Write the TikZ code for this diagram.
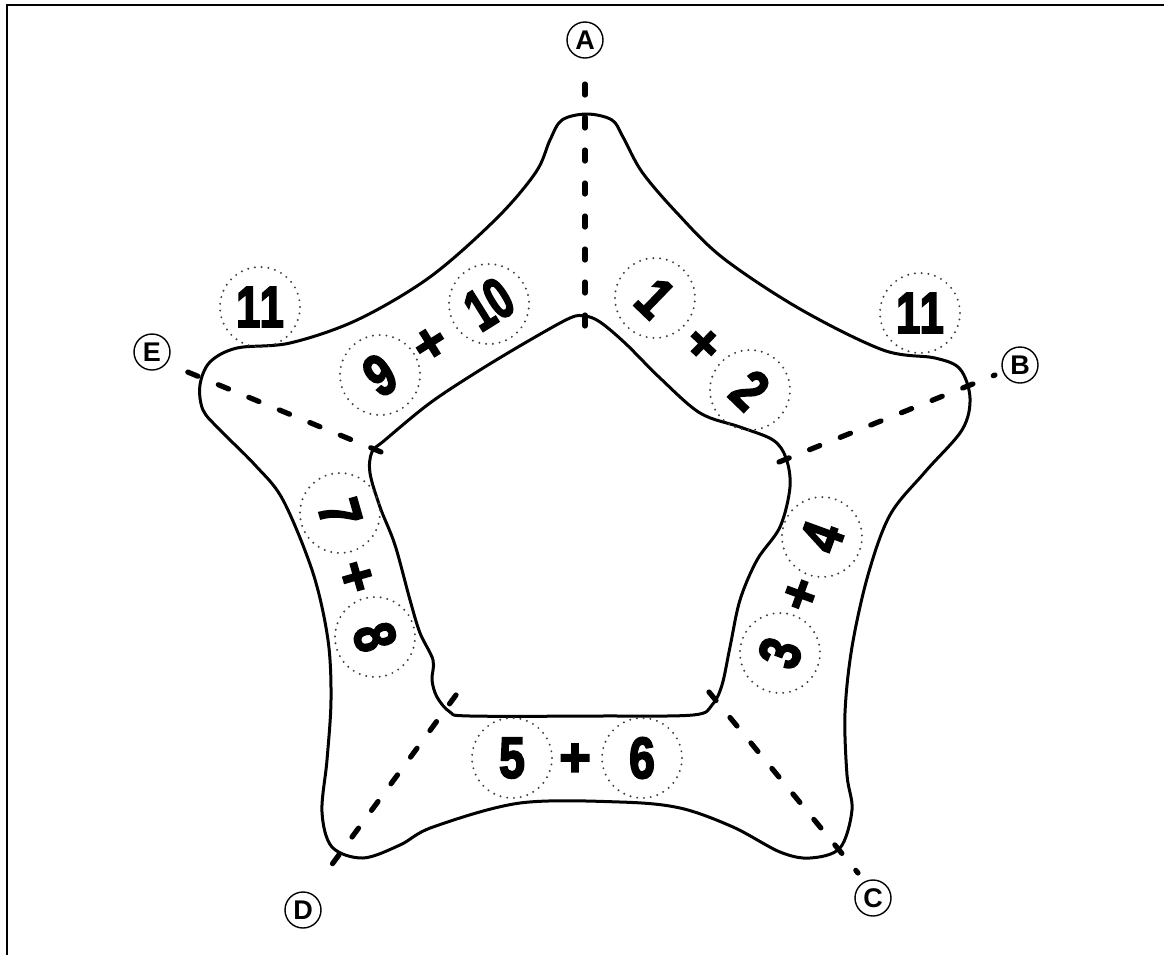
\documentclass[tikz,border=0pt]{standalone}
\usepackage{fontspec}
\usepackage{graphicx}
\setmainfont{Liberation Sans}
\newfontfamily\numfont{Liberation Sans Bold}[FakeBold=3.5]
\newcommand{\nn}[1]{\scalebox{0.8}[1]{#1}}
\begin{document}
\begin{tikzpicture}[x=0.5pt,y=-0.5pt,
  outline/.style={line width=1.5pt, line join=round},
  axisline/.style={line width=2.6pt, line cap=round, dash pattern=on 5.5pt off 11pt},
  letter/.style={circle, draw, line width=0.7pt, minimum size=18pt, inner sep=0pt, font=\bfseries\fontsize{13.5}{13.5}\selectfont},
  numcirc/.style={circle, draw=black!75, line width=1.1pt, line cap=round, dash pattern=on 0pt off 3.4pt, minimum size=40pt, inner sep=0pt, font=\numfont\fontsize{29}{29}\selectfont},
  plus/.style={inner sep=0pt, font=\numfont\fontsize{27}{27}\selectfont}
]
\useasboundingbox (0,0) rectangle (1164,955);
% frame
\draw[line width=1.4pt] (7,955) -- (7,5) -- (1164,5);

% outer shape
\draw[outline] plot[smooth cycle, tension=0.55] coordinates {
 (587,114) (612,120) (623,137) (642,172) (677,213) (723,258) (800,309) (883,350)
 (935,358) (960,369) (970,398) (962,430) (925,472) (890,515) (868,575) (852,647)
 (845,713) (847,775) (852,810) (840,848) (810,858) (780,852) (733,827) (680,808)
 (620,802) (520,803) (433,827) (400,845) (363,858) (332,847) (322,812) (327,760)
 (331,700) (328,640) (313,573) (283,500) (255,465) (220,430) (203,410) (200,385)
 (210,362) (237,348) (290,343) (357,320) (430,277) (497,218) (536,172) (550,140)
 (562,120)};

% inner shape
\draw[outline] plot[smooth cycle, tension=0.55] coordinates {
 (585,316) (600,322) (625,343) (660,378) (700,413) (740,427) (773,440) (786,458)
 (790,487) (780,527) (757,560) (740,600) (730,647) (722,685) (712,705) (693,715)
 (600,716) (470,716) (450,712) (437,697) (432,680) (433,660) (420,633) (410,600)
 (395,545) (380,507) (370,473) (372,452) (385,440) (430,403) (480,370) (530,340)
 (570,318)};

% letter nodes
\node[letter] (A) at (585,40) {A};
\node[letter] (B) at (1020,365) {B};
\node[letter] (C) at (873,898) {C};
\node[letter] (D) at (303,910) {D};
\node[letter] (E) at (152,352) {E};

% axis endpoints
\coordinate (a0) at (585,326);  \coordinate (a1) at (585,75);
\coordinate (b0) at (779,462);  \coordinate (b1) at (995,375);
\coordinate (c0) at (709,692);  \coordinate (c1) at (858,873);
\coordinate (d0) at (456,695);  \coordinate (d1) at (322,878);
\coordinate (e0) at (381,452);  \coordinate (e1) at (178,368);
\draw[axisline] (a0) -- (a1);
\draw[axisline] (b0) -- (b1);
\draw[axisline] (c0) -- (c1);
\draw[axisline] (d0) -- (d1);
\draw[axisline] (e0) -- (e1);

% numbers
\node[numcirc] (n11a) at (260,307) {\scalebox{0.75}[1]{1\kern-0.5pt1}};
\node[numcirc] (n11b) at (920,313) {\scalebox{0.75}[1]{1\kern-0.5pt1}};

\node[numcirc, rotate=32] (n9) at (380,375) {\nn{9}};
\node[plus, rotate=32] (p910) at (431,345) {+};
\node[numcirc, rotate=32] (n10) at (489,304) {\scalebox{0.7}[1]{1\kern-0.5pt0}};

\node[numcirc, rotate=-44] (n1) at (655,298) {\nn{1}};
\node[plus, rotate=-44] (p12) at (702,345) {+};
\node[numcirc, rotate=-44] (n2) at (750,390) {\nn{2}};

\node[numcirc, rotate=70] (n3) at (780,653) {\nn{3}};
\node[plus, rotate=70] (p34) at (802,595) {+};
\node[numcirc, rotate=70] (n4) at (822,537) {\nn{4}};

\node[numcirc, rotate=-74] (n7) at (340,513) {\nn{7}};
\node[plus, rotate=-74] (p78) at (355,577) {+};
\node[numcirc, rotate=-74] (n8) at (375,637) {\nn{8}};

\node[numcirc] (n5) at (512,758) {\nn{5}};
\node[plus] (p56) at (575,760) {+};
\node[numcirc] (n6) at (642,758) {\nn{6}};
\end{tikzpicture}
\end{document}
